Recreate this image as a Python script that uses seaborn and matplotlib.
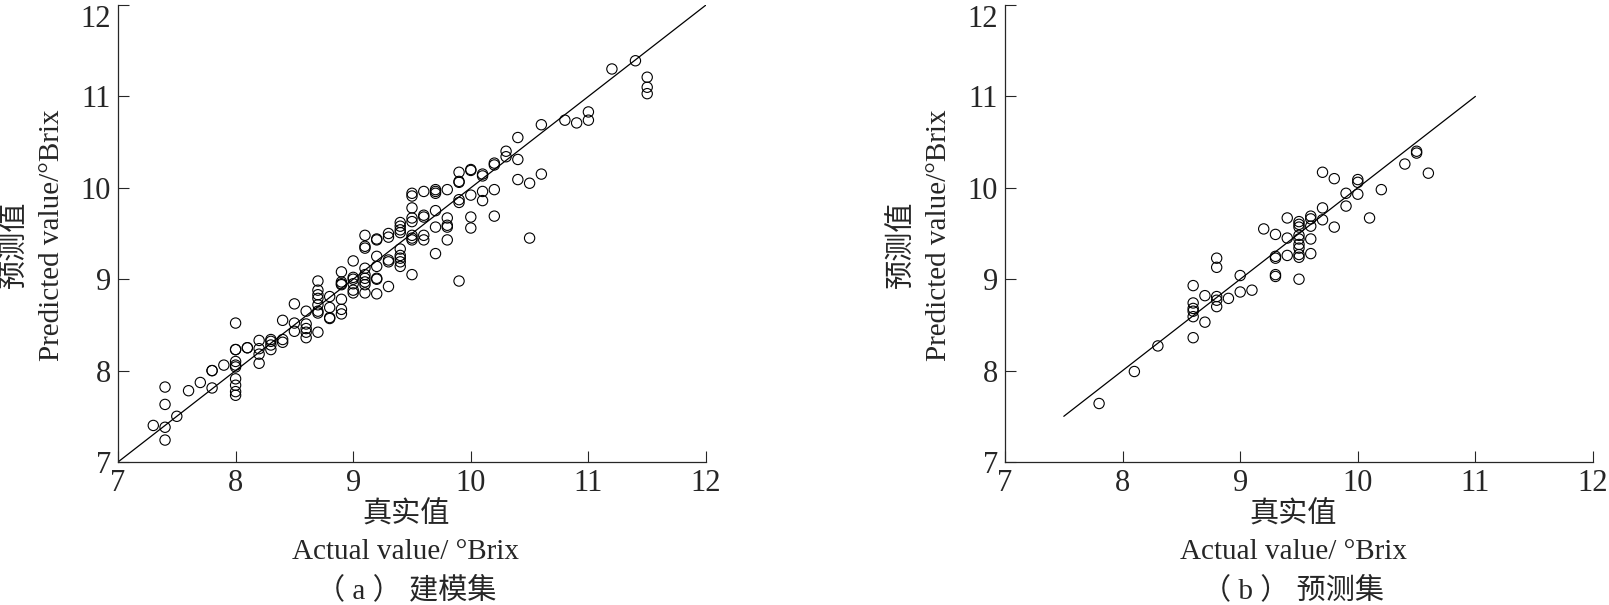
import numpy as np
import pandas as pd
import seaborn as sns
import matplotlib.pyplot as plt

# calibration set (建模集): actual vs predicted, grouped by actual value
cal_actual = (
    [7.3] + [7.4] * 4 + [7.5, 7.6, 7.7] + [7.8] * 3 + [7.9]
    + [8.0] * 10 + [8.1] * 2 + [8.2] * 4 + [8.3] * 4 + [8.4] * 3 + [8.5] * 3
    + [8.6] * 5 + [8.7] * 8 + [8.8] * 4 + [8.9] * 7 + [9.0] * 6 + [9.1] * 9
    + [9.2] * 7 + [9.3] * 5 + [9.4] * 9 + [9.5] * 9 + [9.6] * 5 + [9.7] * 6
    + [9.8] * 5 + [9.9] * 6 + [10.0] * 5 + [10.1] * 4 + [10.2] * 4 + [10.3] * 2
    + [10.4] * 3 + [10.5] * 2 + [10.6] * 2 + [10.8, 10.9] + [11.0] * 2
    + [11.2, 11.4] + [11.5] * 3
)
cal_pred = [
    7.40,
    7.38, 7.24, 7.63, 7.82,
    7.50, 7.78, 7.87,
    7.81, 8.00, 8.00,
    8.06,
    8.52, 8.23, 8.23, 8.10, 8.06, 8.04, 7.91, 7.84, 7.77, 7.73,
    8.25, 8.25,
    8.33, 8.24, 8.18, 8.08,
    8.34, 8.32, 8.28, 8.23,
    8.55, 8.34, 8.31,
    8.73, 8.52, 8.43,
    8.65, 8.51, 8.46, 8.42, 8.36,
    8.98, 8.88, 8.83, 8.79, 8.72, 8.65, 8.63, 8.42,
    8.81, 8.69, 8.58, 8.57,
    9.08, 8.97, 8.95, 8.94, 8.78, 8.67, 8.62,
    9.20, 9.02, 9.00, 8.95, 8.88, 8.85,
    9.48, 9.36, 9.34, 9.12, 9.05, 9.01, 8.97, 8.94, 8.85,
    9.44, 9.43, 9.25, 9.14, 9.01, 9.00, 8.84,
    9.50, 9.46, 9.21, 9.19, 8.92,
    9.62, 9.58, 9.54, 9.51, 9.33, 9.26, 9.23, 9.19, 9.14,
    9.94, 9.91, 9.78, 9.67, 9.63, 9.48, 9.45, 9.43, 9.05,
    9.96, 9.70, 9.68, 9.48, 9.43,
    9.98, 9.96, 9.94, 9.75, 9.57, 9.28,
    9.98, 9.67, 9.59, 9.57, 9.43,
    10.17, 10.07, 10.06, 9.87, 9.84, 8.98,
    10.20, 10.19, 9.92, 9.68, 9.56,
    10.15, 10.13, 9.96, 9.86,
    10.27, 10.25, 9.98, 9.69,
    10.40, 10.34,
    10.55, 10.31, 10.09,
    10.05, 9.45,
    10.69, 10.15,
    10.74, 10.71,
    10.83, 10.74,
    11.30, 11.39,
    11.21, 11.10, 11.03,
]

# prediction set (预测集)
val_actual = (
    [7.8, 8.1, 8.3] + [8.6] * 6 + [8.7] * 2 + [8.8] * 5 + [8.9] + [9.0] * 2
    + [9.1, 9.2] + [9.3] * 5 + [9.4] * 3 + [9.5] * 10 + [9.6] * 5 + [9.7] * 3
    + [9.8] * 2 + [9.9] * 2 + [10.0] * 3 + [10.1, 10.2, 10.4] + [10.5] * 2 + [10.6]
)
val_pred = [
    7.64, 7.99, 8.27,
    8.93, 8.74, 8.68, 8.65, 8.59, 8.36,
    8.82, 8.53,
    9.23, 9.13, 8.81, 8.77, 8.70,
    8.79,
    9.04, 8.86,
    8.88, 9.55,
    9.49, 9.25, 9.23, 9.05, 9.03,
    9.67, 9.45, 9.26,
    9.63, 9.60, 9.57, 9.48, 9.44, 9.38, 9.34, 9.27, 9.24, 9.00,
    9.69, 9.66, 9.58, 9.44, 9.28,
    10.17, 9.78, 9.65,
    10.10, 9.57,
    9.94, 9.80,
    10.09, 10.06, 9.93,
    9.67, 9.98, 10.26,
    10.40, 10.38,
    10.16,
]

cal_line = [7, 12]
val_line = [7.5, 11]
ticks = [7, 8, 9, 10, 11, 12]

sns.set_style('ticks')
plt.rcParams['font.family'] = ['Liberation Serif', 'Noto Sans CJK SC']

fig = plt.figure(figsize=(16.09, 6.05), dpi=100)
W, H = 1609, 605

panels = [
    (118, cal_actual, cal_pred, cal_line, '（ a ） 建模集'),
    (1005, val_actual, val_pred, val_line, '（ b ） 预测集'),
]

for left_px, xs, ys, line, caption in panels:
    ax = fig.add_axes([left_px / W, 1 - 462 / H, 588 / W, 457 / H])
    df = pd.DataFrame({'actual': xs, 'pred': ys})
    sns.scatterplot(data=df, x='actual', y='pred', ax=ax, s=55,
                    facecolors='none', edgecolor='black', linewidth=0.8)
    ax.plot(line, line, color='black', linewidth=0.9)

    ax.set_xlim(7, 12)
    ax.set_ylim(7, 12)
    ax.set_xticks(ticks)
    ax.set_yticks(ticks)
    ax.tick_params(direction='in', length=8, width=0.8, labelsize=22, pad=5)
    # keep the top "12" inside the figure
    ax.get_yticklabels()[-1].set_va('top')
    ax.set_xlabel('')
    ax.set_ylabel('')
    sns.despine(ax=ax)
    for sp in ['left', 'bottom']:
        ax.spines[sp].set_linewidth(0.9)

    cx = (left_px + 288) / W
    fig.text(cx, 1 - 515 / H, '真实值', ha='center', va='center', fontsize=21)
    fig.text(cx, 1 - 552 / H, 'Actual value/ °Brix', ha='center', va='center', fontsize=21)
    fig.text(cx, 1 - 590 / H, caption, ha='center', va='center', fontsize=21)

    fig.text((left_px - 104) / W, 1 - 244 / H, '预测值', ha='center', va='center',
             rotation=90, fontsize=21)
    fig.text((left_px - 66) / W, 1 - 235 / H, 'Predicted value/°Brix', ha='center',
             va='center', rotation=90, fontsize=21)

fig.savefig('out.png', dpi=100)
